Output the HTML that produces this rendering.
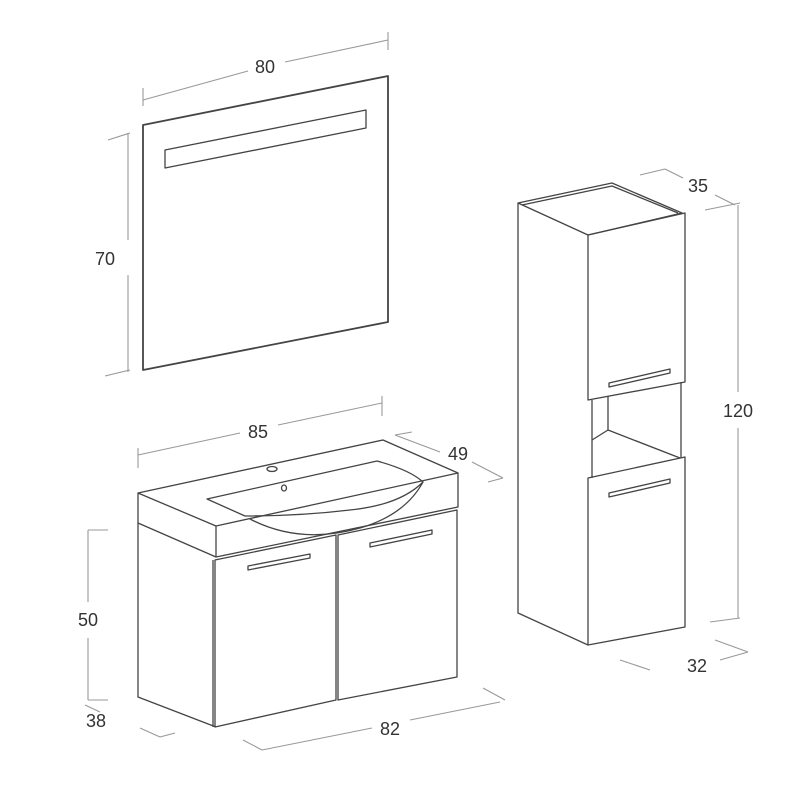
<!DOCTYPE html>
<html><head><meta charset="utf-8"><style>html,body{margin:0;padding:0;background:#fff}svg{display:block}</style></head>
<body>
<svg width="800" height="800" viewBox="0 0 800 800" xmlns="http://www.w3.org/2000/svg" font-family="Liberation Sans, sans-serif" font-size="18" fill="none">
<g stroke="#444" stroke-width="1.3" stroke-linejoin="round">
<polygon points="143,125 388,76 388,322 143,370" stroke-width="1.8"/>
<polygon points="165,150 366,110 366,128 165,168"/>
<polygon points="138,493 383,440 458,473 216,526"/>
<polyline points="138,493 138,523 216,557 458,507 458,473"/>
<line x1="216" y1="526" x2="216" y2="557"/>
<path d="M207,499 L377,461 Q410,470 423,482 Q400,505 350,510 Q300,516 245,516 Z"/>
<path d="M250,519 Q300,545 360,528 Q405,515 423,482"/>
<ellipse cx="272" cy="469" rx="5" ry="2.5"/>
<ellipse cx="284" cy="488" rx="2.5" ry="3"/>
<polyline points="138,523 138,697 216,727"/>
<polygon points="215,560 336,535 336,700 215,727"/>
<polygon points="338,535 457,510 457,677 338,700"/>
<line x1="213" y1="560" x2="213" y2="727"/>
<polygon points="248,566 310,554 310,558 248,570"/>
<polygon points="370,543 432,530 432,534 370,547"/>
<polygon points="518,203 612,183 682,213 588,235"/>
<polyline points="522,205 612,186 678,213"/>
<polyline points="518,203 518,613 588,645"/>
<polygon points="588,235 685,213 685,382 588,400"/>
<polygon points="588,478 685,457 685,627 588,645"/>
<line x1="592" y1="400" x2="592" y2="478"/>
<line x1="681" y1="382" x2="681" y2="458"/>
<polyline points="608,396 608,430 680,458"/>
<line x1="592" y1="440" x2="608" y2="430"/>
<polygon points="609,383 670,369 670,373 609,387"/>
<polygon points="609,493 670,479 670,483 609,497"/>
</g>
<g stroke="#999" stroke-width="1.1">
<line x1="143" y1="100" x2="248" y2="71"/><line x1="285" y1="62" x2="388" y2="40"/>
<line x1="143" y1="88" x2="143" y2="106"/><line x1="388" y1="32" x2="388" y2="50"/>
<line x1="128" y1="133" x2="128" y2="240"/><line x1="128" y1="275" x2="128" y2="372"/>
<line x1="108" y1="140" x2="130" y2="133"/><line x1="105" y1="376" x2="130" y2="370"/>
<line x1="138" y1="455" x2="240" y2="433"/><line x1="278" y1="425" x2="382" y2="403"/>
<line x1="138" y1="448" x2="138" y2="468"/><line x1="382" y1="396" x2="382" y2="416"/>
<line x1="395" y1="435" x2="440" y2="452"/><line x1="472" y1="462" x2="503" y2="478"/>
<line x1="395" y1="435" x2="412" y2="432"/><line x1="488" y1="482" x2="503" y2="478"/>
<line x1="88" y1="530" x2="88" y2="602"/><line x1="88" y1="638" x2="88" y2="700"/>
<line x1="88" y1="530" x2="108" y2="530"/><line x1="88" y1="700" x2="108" y2="700"/>
<line x1="85" y1="705" x2="100" y2="712"/><line x1="140" y1="728" x2="160" y2="737"/>
<line x1="160" y1="737" x2="175" y2="733"/>
<line x1="243" y1="740" x2="262" y2="750"/><line x1="262" y1="750" x2="372" y2="728"/><line x1="410" y1="720" x2="500" y2="702"/>
<line x1="483" y1="688" x2="505" y2="700"/>
<line x1="640" y1="175" x2="665" y2="169"/><line x1="665" y1="169" x2="683" y2="178"/>
<line x1="715" y1="195" x2="735" y2="205"/><line x1="705" y1="210" x2="740" y2="203"/>
<line x1="738" y1="205" x2="738" y2="392"/><line x1="738" y1="428" x2="738" y2="618"/>
<line x1="710" y1="622" x2="740" y2="618"/>
<line x1="620" y1="660" x2="650" y2="670"/><line x1="715" y1="640" x2="748" y2="652"/>
<line x1="720" y1="660" x2="748" y2="652"/>
</g>
<g fill="#333" stroke="none" text-anchor="middle">
<text x="265" y="73">80</text>
<text x="105" y="265">70</text>
<text x="258" y="438">85</text>
<text x="458" y="460">49</text>
<text x="88" y="626">50</text>
<text x="96" y="727">38</text>
<text x="390" y="735">82</text>
<text x="698" y="192">35</text>
<text x="738" y="417">120</text>
<text x="697" y="672">32</text>
</g>
</svg>
</body></html>
